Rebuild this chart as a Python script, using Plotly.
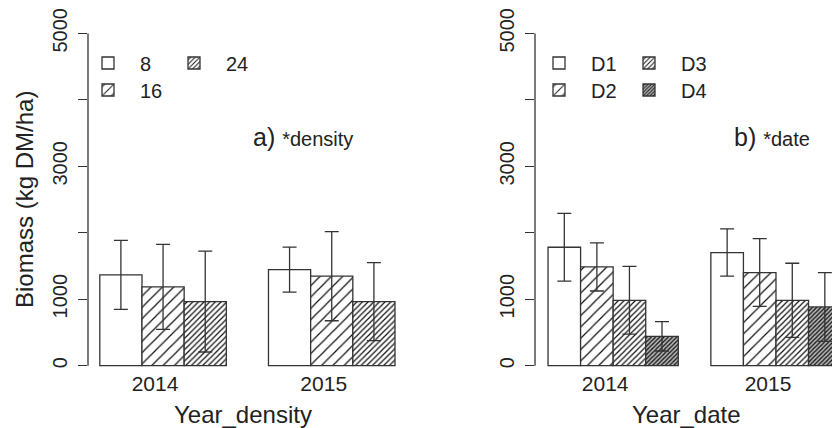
import plotly.graph_objects as go

W, H = 832, 428

# ---------------- data ----------------
years = ["2014", "2015"]

density_levels = ["8", "16", "24"]
dens8_mean = [1366, 1446]
dens8_sd = [520, 339]
dens16_mean = [1185, 1346]
dens16_sd = [640, 670]
dens24_mean = [964, 964]
dens24_sd = [758, 587]

date_levels = ["D1", "D2", "D3", "D4"]
d1_mean = [1782, 1702]
d1_sd = [510, 356]
d2_mean = [1486, 1401]
d2_sd = [362, 510]
d3_mean = [984, 984]
d3_sd = [510, 557]
d4_mean = [442, 884]
d4_sd = [221, 517]

y_tickvals = [0, 1000, 2000, 3000, 4000, 5000]
y_ticktext = ["0", "1000", "", "3000", "", "5000"]

# ---------------- styles ----------------
FONT = "Liberation Sans, Arial, Helvetica, sans-serif"
TXT = "#222222"
LINE = "#333333"

patterns = [
    dict(shape="", bgcolor="white"),
    dict(shape="/", size=8, solidity=0.15, fgcolor="#111111", bgcolor="white", fgopacity=1),
    dict(shape="/", size=4, solidity=0.3, fgcolor="#111111", bgcolor="white", fgopacity=1),
    dict(shape="/", size=3, solidity=0.42, fgcolor="#111111", bgcolor="#b5b5b5", fgopacity=1),
]


def px2x(px):
    return px / W


def py2y(py):
    return 1 - py / H


fig = go.Figure()


def add_panel(levels, means, sds, xaxis, yaxis, legends):
    n = len(levels)
    for i, (lev, m, s) in enumerate(zip(levels, means, sds)):
        xs = [1 + g * (n + 1) + i + 0.5 for g in range(len(years))]
        fig.add_trace(go.Bar(
            x=xs, y=m, width=1, name=lev,
            xaxis=xaxis, yaxis=yaxis, legend=legends[i],
            marker=dict(color="white", line=dict(color=LINE, width=1.3),
                        pattern=patterns[i]),
            error_y=dict(type="data", array=s, visible=True, color=LINE,
                         thickness=1.3, width=7),
            showlegend=True,
        ))
    return n


nL = add_panel(density_levels, [dens8_mean, dens16_mean, dens24_mean],
               [dens8_sd, dens16_sd, dens24_sd], "x", "y",
               ["legend", "legend2", "legend3"])
nR = add_panel(date_levels, [d1_mean, d2_mean, d3_mean, d4_mean],
               [d1_sd, d2_sd, d3_sd, d4_sd], "x2", "y2",
               ["legend4", "legend5", "legend6", "legend7"])

# axis geometry (pixels)
y0_px, y5000_px = 365.7, 33.3
ymin = -30
ppu = (y0_px - y5000_px) / 5000
ybot_px = y0_px - ymin * ppu
ydom = [py2y(ybot_px), py2y(y5000_px)]

xL_dom = [px2x(88), px2x(406.8)]
xR_dom = [px2x(535), 1.0]


def gcenters(n, off):
    return [1 + g * (n + 1) + n / 2 - off for g in range(len(years))]


common_x = dict(showline=False, showgrid=False, zeroline=False, ticks="",
                tickfont=dict(size=21, color=TXT, family=FONT), automargin=False,
                ticktext=years, tickmode="array", ticklabelstandoff=1)
common_y = dict(showline=False, showgrid=False, zeroline=False, ticks="outside",
                ticklen=9, tickwidth=1.3, tickcolor=LINE, tickangle=-90,
                tickmode="array", tickvals=y_tickvals, ticktext=y_ticktext,
                range=[ymin, 5000], domain=ydom, automargin=False,
                tickfont=dict(size=20, color=TXT, family=FONT),
                ticklabelstandoff=3)

fig.update_layout(
    width=W, height=H,
    margin=dict(l=0, r=0, t=0, b=0, pad=0, autoexpand=False),
    paper_bgcolor="white", plot_bgcolor="white",
    barmode="overlay",
    font=dict(family=FONT, color=TXT, size=20),
    xaxis=dict(common_x, domain=xL_dom, range=[0.72, 8.28],
               tickvals=gcenters(nL, 0.19)),
    yaxis=dict(common_y, anchor="x"),
    xaxis2=dict(common_x, domain=xR_dom, range=[0.6, 9.72],
                tickvals=gcenters(nR, 0.245), anchor="y2"),
    yaxis2=dict(common_y, anchor="x2"),
)

# y axis lines (0..5000)
for xr, yr in [("x domain", "y"), ("x2 domain", "y2")]:
    fig.add_shape(type="line", xref=xr, yref=yr, x0=0, x1=0, y0=0, y1=5000,
                  line=dict(color=LINE, width=1.3))

# legends
def leg(x_px, y_px):
    return dict(x=px2x(x_px), y=py2y(y_px), xanchor="left", yanchor="middle",
                bgcolor="rgba(0,0,0,0)", font=dict(size=20, color=TXT, family=FONT),
                orientation="v", itemclick=False, itemwidth=54)

fig.update_layout(
    legend=leg(76, 63),
    legend2=leg(76, 90),
    legend3=leg(162, 63),
    legend4=leg(527, 63),
    legend5=leg(527, 90),
    legend6=leg(617, 63),
    legend7=leg(617, 90),
)

ann = [
    dict(text="Biomass (kg DM/ha)", x=px2x(24), y=py2y(200), textangle=-90,
         font=dict(size=24)),
    dict(text="Year_density", x=px2x(243), y=py2y(414), font=dict(size=24)),
    dict(text="Year_date", x=px2x(686), y=py2y(414), font=dict(size=24)),
    dict(text="a) <span style='font-size:20px'>*density</span>", x=px2x(251),
         y=py2y(137), xanchor="left", font=dict(size=25)),
    dict(text="b) <span style='font-size:20px'>*date</span>", x=px2x(732),
         y=py2y(137), xanchor="left", font=dict(size=25)),
]
for a in ann:
    a.setdefault("xanchor", "center")
    a.update(xref="paper", yref="paper", showarrow=False, yanchor="middle")
    a["font"] = dict(family=FONT, color=TXT, size=a["font"]["size"])
    fig.add_annotation(**a)

fig.write_html("out.html",
               config={"displayModeBar": False, "staticPlot": True},
               post_script="document.body.style.margin='0';"
                           "document.body.style.overflow='hidden';")
